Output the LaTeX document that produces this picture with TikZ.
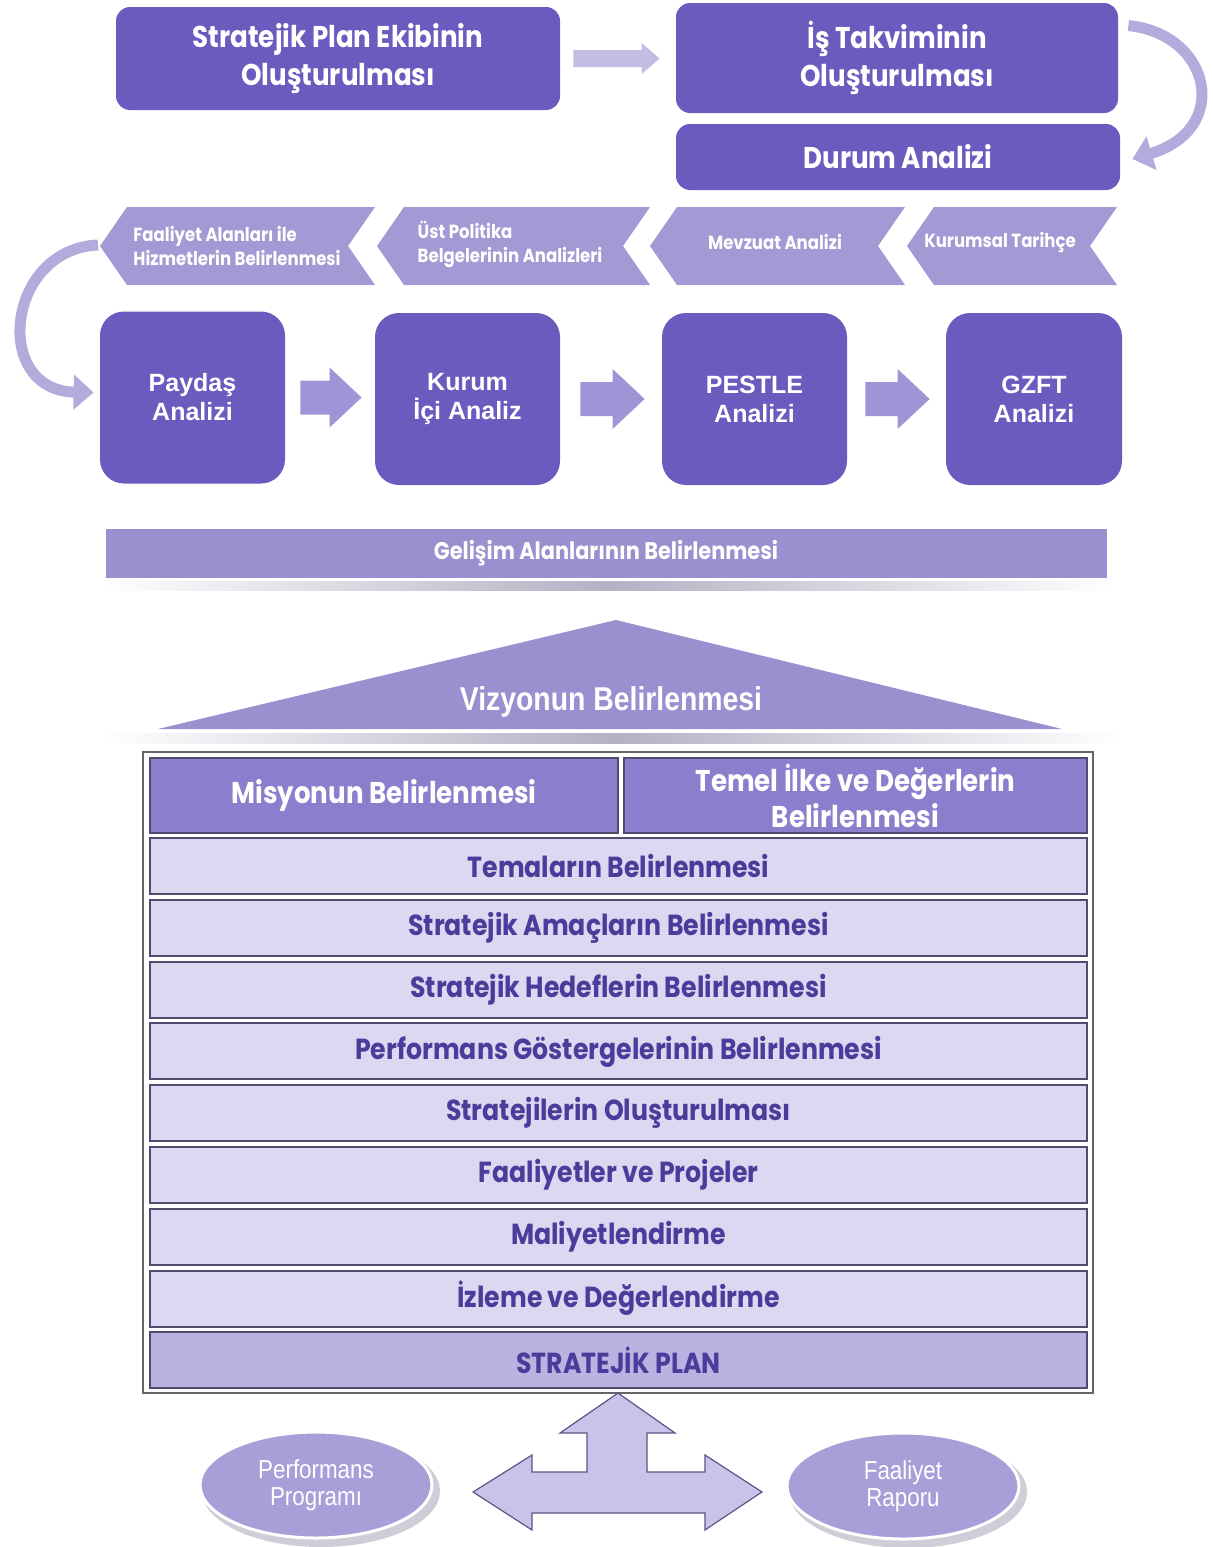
\documentclass[tikz,border=0pt]{standalone}
\usepackage{fontspec}
\setmainfont{Liberation Sans}
\newfontfamily\gothic[FakeStretch=0.87]{Poppins}
\newfontfamily\narrowf[FakeStretch=0.86]{Liberation Sans}
\usetikzlibrary{shapes.geometric,arrows.meta,calc}
\definecolor{darkbox}{HTML}{6C5BBF}
\definecolor{toparrow}{HTML}{C3BDE6}
\definecolor{midarrow}{HTML}{A194D6}
\definecolor{chevfill}{HTML}{A399D4}
\definecolor{barfill}{HTML}{9A90CF}
\definecolor{trifill}{HTML}{9A8FCF}
\definecolor{rowdark}{HTML}{8A7FCC}
\definecolor{rowlite}{HTML}{DCD8F1}
\definecolor{rowplan}{HTML}{BBB2E2}
\definecolor{tabletext}{HTML}{4A3C9A}
\definecolor{rowline}{HTML}{4F4C6E}
\definecolor{ellfill}{HTML}{A89ED8}
\definecolor{ellshadow}{HTML}{CFCDD8}
\definecolor{curvefill}{HTML}{B3ABDC}
\definecolor{shadowgray}{HTML}{B4B1C4}
\definecolor{tripfill}{HTML}{C9C3EA}
\definecolor{tripline}{HTML}{5A5585}
\newcommand\chev[2]{\fill[chevfill] (#1+27,207) -- (#2,207) -- (#2-27,246) -- (#2,285) -- (#1+27,285) -- (#1,246) -- cycle;}
\newcommand\blockarr[6]{\fill[#6] let \p1=#1, \p2=#2 in
  (\x1,\y1+#3) -- (\x2-#5,\y1+#3) -- (\x2-#5,\y1+#4) -- (\x2,\y1) -- (\x2-#5,\y1-#4) -- (\x2-#5,\y1-#3) -- (\x1,\y1-#3) -- cycle;}
\begin{document}
\begin{tikzpicture}[x=0.5pt,y=-0.5pt,
  darkbox/.style={rounded corners=7pt, fill=darkbox, text=white, font=\gothic\bfseries\fontsize{15}{19}\selectfont, align=center, inner sep=0pt},
  anbox/.style={rounded corners=12pt, fill=darkbox, text=white, font=\bfseries\fontsize{12.5}{14.5}\selectfont, align=center, minimum width=92.5pt, minimum height=86pt, inner sep=0pt},
  chevtext/.style={text=white, font=\gothic\bfseries\fontsize{9.5}{12}\selectfont, align=left, inner sep=0pt},
  rowbox/.style={draw=rowline, line width=1pt, fill=rowlite, text=tabletext, font=\gothic\bfseries\fontsize{14.5}{17}\selectfont, minimum width=468.5pt, minimum height=28pt, inner sep=0pt},
  headcell/.style={draw=rowline, line width=1pt, fill=rowdark, text=white, font=\gothic\bfseries\fontsize{15}{18}\selectfont, align=center, minimum height=37.5pt, inner sep=0pt},
  curvearr/.style={draw=curvefill, line width=5.5pt, -{Triangle[width=17pt,length=10pt]}},
  ellbox/.style={ellipse, fill=ellfill, draw=white, line width=1.5pt, text=white, font=\narrowf\fontsize{13}{13.5}\selectfont, align=center, minimum width=116pt, minimum height=53pt, inner sep=0pt},
  ellshade/.style={ellipse, fill=ellshadow, minimum width=119pt, minimum height=56pt, inner sep=0pt}
]
\useasboundingbox (0,0) rectangle (1213,1547);

% ---- top row
\node[darkbox, minimum width=222pt, minimum height=51.5pt] (b1) at (338,58.5) {Stratejik Plan Ekibinin\\Oluşturulması};
\node[darkbox, minimum width=221pt, minimum height=55pt] (b2) at (897,58) {İş Takviminin\\Oluşturulması};
\node[darkbox, minimum width=222pt, minimum height=33pt] (b3) at (898,157) {Durum Analizi};
\blockarr{($(b1.east)+(13,0)$)}{($(b2.west)+(-16,0)$)}{4.25pt}{7.75pt}{9pt}{toparrow}
\draw[curvearr] ($(b2.north east)+(10,23)$) .. controls +(82,8) and +(100,-30) .. ($(b3.east)+(12,2)$);

% ---- chevrons
\chev{100}{375}
\chev{377}{650}
\chev{650}{905}
\chev{907}{1117}
\coordinate (cAtip) at (98,245);
\node[chevtext] (cA) at (237,246) {Faaliyet Alanları ile\\Hizmetlerin Belirlenmesi};
\node[chevtext] (cB) at (510,244) {Üst Politika\\Belgelerinin Analizleri};
\node[chevtext] (cC) at (775,242) {Mevzuat Analizi};
\node[chevtext] (cD) at (1000,242) {Kurumsal Tarihçe};

% ---- analysis boxes
\node[anbox] (p1) at (192.5,397.5) {Paydaş\\Analizi};
\node[anbox] (p2) at (467.5,399) {Kurum\\İçi Analiz};
\node[anbox] (p3) at (754.5,399) {PESTLE\\Analizi};
\node[anbox, minimum width=88pt] (p4) at (1034,399) {GZFT\\Analizi};
\blockarr{($(p1.east)+(15,0)$)}{($(p2.west)+(-13,0)$)}{8.5pt}{15pt}{16pt}{midarrow}
\blockarr{($(p2.east)+(20,0)$)}{($(p3.west)+(-17,0)$)}{8.5pt}{15pt}{16pt}{midarrow}
\blockarr{($(p3.east)+(18,0)$)}{($(p4.west)+(-16,0)$)}{8.5pt}{15pt}{16pt}{midarrow}
\draw[curvearr] (cAtip) .. controls +(-92,4) and +(-102,-2) .. ($(p1.west)+(-6,-5)$);

% ---- development areas bar
\shade[left color=white, right color=white, middle color=shadowgray] (100,572) rectangle (1116,590);
\node[draw=white, line width=1.5pt, fill=barfill, text=white, font=\gothic\bfseries\fontsize{12}{14}\selectfont, minimum width=502pt, minimum height=26pt, inner sep=0pt] (gel) at (606,553) {Gelişim Alanlarının Belirlenmesi};

% ---- vision roof
\shade[left color=white, right color=white, middle color=shadowgray] (100,733) rectangle (1124,743);
\fill[trifill] (158,729) -- (616,620) -- (1062,729) -- cycle;
\node[text=white, font=\narrowf\bfseries\fontsize{16.5}{19}\selectfont, inner sep=0pt] (viz) at (611,702) {Vizyonun Belirlenmesi};

% ---- table
\draw[draw=gray!80!black, line width=0.8pt, fill=white] (143,752) rectangle (1093,1393);
\node[headcell, minimum width=234pt] (mis) at (384,795.5) {Misyonun Belirlenmesi};
\node[headcell, minimum width=231.5pt] (tem) at (855.5,795.5) {Temel İlke ve Değerlerin\\Belirlenmesi};
\node[rowbox] (r1) at (618.5,866) {Temaların Belirlenmesi};
\node[rowbox] (r2) at (618.5,927.8) {Stratejik Amaçların Belirlenmesi};
\node[rowbox] (r3) at (618.5,989.6) {Stratejik Hedeflerin Belirlenmesi};
\node[rowbox] (r4) at (618.5,1051.4) {Performans Göstergelerinin Belirlenmesi};
\node[rowbox] (r5) at (618.5,1113.2) {Stratejilerin Oluşturulması};
\node[rowbox] (r6) at (618.5,1175) {Faaliyetler ve Projeler};
\node[rowbox] (r7) at (618.5,1236.8) {Maliyetlendirme};
\node[rowbox] (r8) at (618.5,1298.6) {İzleme ve Değerlendirme};
\node[rowbox, fill=rowplan] (r9) at (618.5,1360.4) {STRATEJİK PLAN};

% ---- bottom ellipses
\node[ellshade] (e1s) at (321,1491) {};
\node[ellshade] (e2s) at (908,1492) {};
\node[ellbox] (e1) at (316,1485) {Performans\\Programı};
\node[ellbox] (e2) at (903,1486) {Faaliyet\\Raporu};

% ---- three-way arrow
\filldraw[fill=tripfill, draw=tripline, line width=0.6pt, line join=miter]
  (618,1393) -- (675,1433) -- (647,1433) -- (647,1472) -- (705,1472) -- (705,1455) -- (762,1492)
  -- (705,1530) -- (705,1513) -- (532,1513) -- (532,1530) -- (473,1492) -- (532,1455)
  -- (532,1472) -- (587,1472) -- (587,1433) -- (560,1433) -- cycle;
\end{tikzpicture}
\end{document}
